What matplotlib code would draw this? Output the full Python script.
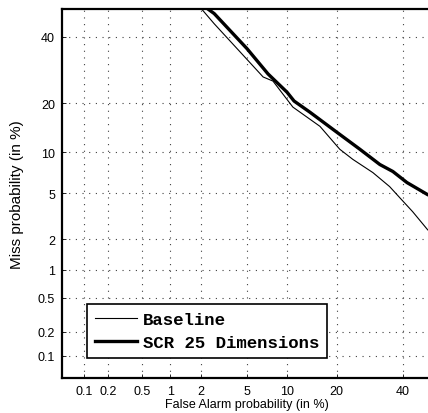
import numpy as np
import matplotlib
matplotlib.use("Agg")
import matplotlib.pyplot as plt
from statistics import NormalDist

# DET curve values (in %)
baseline_fa = [2.02, 2.66, 6.72, 7.94, 10.9, 16.1, 20.8, 24.3, 30.2, 35.6, 39.0, 43.5, 48.8, 50.0]
baseline_miss = [50.0, 44.6, 27.1, 25.9, 19.0, 14.7, 10.5, 8.95, 7.20, 5.64, 4.61, 3.52, 2.44, 2.3]

scr_fa = [2.30, 2.66, 5.05, 7.31, 9.96, 11.1, 14.0, 20.1, 26.3, 32.4, 36.7, 41.5, 48.8, 50.0]
scr_miss = [50.0, 48.2, 36.0, 28.0, 22.8, 20.5, 17.8, 13.5, 10.5, 8.24, 7.33, 6.06, 4.87, 4.75]

ticks = [0.1, 0.2, 0.5, 1, 2, 5, 10, 20, 40]
tick_labels = ["0.1", "0.2", "0.5", "1", "2", "5", "10", "20", "40"]

nd = NormalDist()


def _ppf1(p):
    if np.isnan(p):
        return np.nan
    return nd.inv_cdf(min(max(p / 100.0, 1e-9), 1 - 1e-9))


def _cdf1(z):
    if np.isnan(z):
        return np.nan
    return nd.cdf(z) * 100.0


_ppf = np.vectorize(_ppf1, otypes=[float])
_cdf = np.vectorize(_cdf1, otypes=[float])


def forward(p):
    return _ppf(np.asarray(p, dtype=float))


def inverse(z):
    return _cdf(np.asarray(z, dtype=float))


plt.rcParams["font.family"] = ["Liberation Sans", "DejaVu Sans"]

fig = plt.figure(figsize=(4.28, 4.14), dpi=100)
ax = fig.add_axes([62 / 428, 35 / 414, 369 / 428, 369.5 / 414])

ax.set_xscale("function", functions=(forward, inverse))
ax.set_yscale("function", functions=(forward, inverse))

ax.plot(baseline_fa, baseline_miss, color="black", linewidth=0.8, label="Baseline")
ax.plot(scr_fa, scr_miss, color="black", linewidth=2.4, label="SCR 25 Dimensions")

ax.set_xlim(0.05, 50)
ax.set_ylim(0.05, 50)
ax.set_xticks(ticks)
ax.set_xticklabels(tick_labels)
ax.set_yticks(ticks)
ax.set_yticklabels(tick_labels)
ax.minorticks_off()
ax.tick_params(direction="in", length=3, labelsize=9, width=0.6, pad=5)

ax.grid(True, linestyle=(0, (1, 5)), color="0.25", linewidth=0.8)
for s in ax.spines.values():
    s.set_linewidth(1.6)

ax.set_xlabel("False Alarm probability (in %)", fontsize=9, labelpad=1)
ax.set_ylabel("Miss probability (in %)", fontsize=11, labelpad=10)

leg = ax.legend(loc="lower left", bbox_to_anchor=(25 / 369, 20 / 369.5),
                prop={"family": "Liberation Mono", "weight": "bold", "size": 12.5},
                fancybox=False, framealpha=1, edgecolor="black",
                handlelength=2.45, handletextpad=0.3, borderpad=0.45,
                labelspacing=0.45, borderaxespad=0)
leg.get_frame().set_linewidth(1.2)

fig.savefig("out.png", dpi=100)
